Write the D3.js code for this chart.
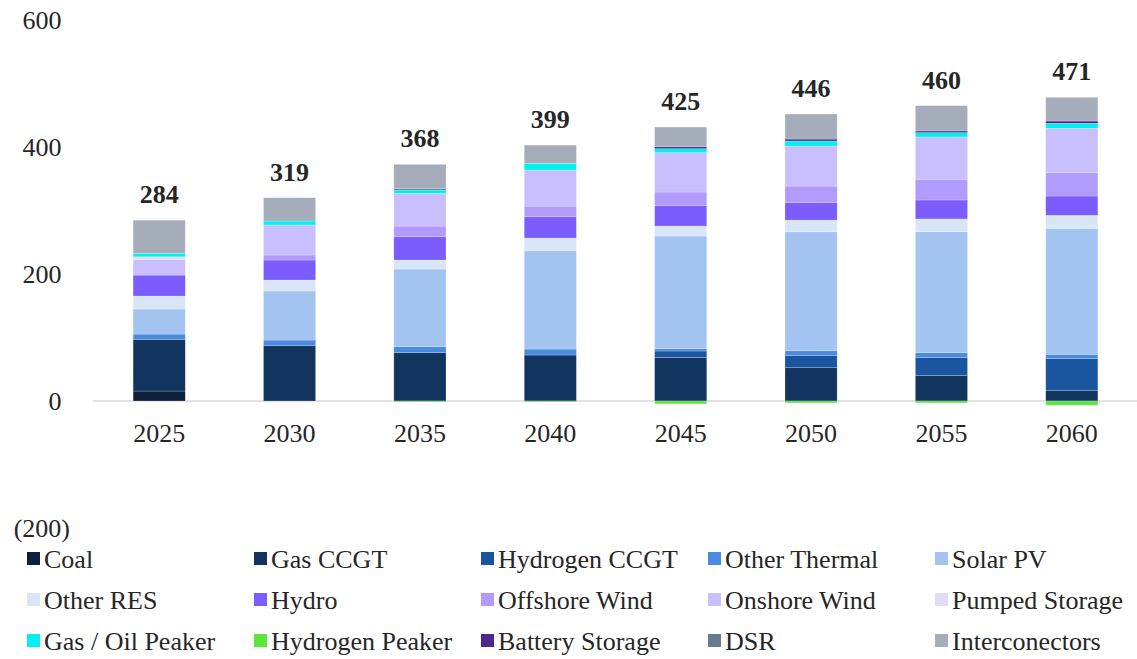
<!DOCTYPE html>
<html>
<head>
<meta charset="utf-8">
<script src="https://cdn.jsdelivr.net/npm/d3@7/dist/d3.min.js"></script>
</head>
<body style="margin:0;padding:0;background:#ffffff;">
<svg id="chart" width="1137" height="659" style="display:block;"></svg>
<script>
const years = ["2025", "2030", "2035", "2040", "2045", "2050", "2055", "2060"];
const totals = [284, 319, 368, 399, 425, 446, 460, 471];
const yTicks = [-200, 0, 200, 400, 600];

const seriesNames = ["Coal", "Gas CCGT", "Hydrogen CCGT", "Other Thermal", "Solar PV",
  "Other RES", "Hydro", "Offshore Wind", "Onshore Wind", "Pumped Storage",
  "Gas / Oil Peaker", "Hydrogen Peaker", "Battery Storage", "DSR", "Interconectors"];
const seriesColors = ["#0d213f", "#12355f", "#1a55a0", "#4a8ae0", "#a3c4f0",
  "#d9e6f7", "#7b5cff", "#b09cff", "#c9bfff", "#e2dcfb",
  "#00f0f0", "#5ce63a", "#4b2a8c", "#6c7a8e", "#a6adba"];

const coal           = [15.7, 0, 0, 0, 0, 0, 0, 0];
const gasCCGT        = [81.4, 87, 76, 72.4, 68.8, 52.4, 40.5, 16.2];
const hydrogenCCGT   = [0, 0, 0, 0, 9.9, 19.5, 27.7, 50.4];
const otherThermal   = [8.3, 9, 9.4, 9.4, 3.6, 7.2, 7.9, 6.9];
const solarPV        = [39.4, 77.2, 122.4, 154.8, 177.5, 187.4, 190.6, 198.4];
const otherRES       = [20.5, 17.3, 14.2, 20, 15.7, 18.4, 20, 20.5];
const hydro          = [33, 31.5, 36.7, 33.5, 32, 27.9, 29.9, 30.4];
const offshoreWind   = [0, 7.9, 16.8, 16.8, 21.6, 25.7, 32.6, 36.7];
const onshoreWind    = [24.7, 47.2, 51.5, 56.7, 61.9, 63, 66.6, 69.9];
const pumpedStorage  = [4.1, 0, 0, 0, 0, 0, 0, 0];
const gasOilPeaker   = [5.3, 6.3, 5.2, 10.6, 6.3, 7.9, 6.8, 7.9];
const hydrogenPeaker = [0, 0, -1.5, -1.5, -4.5, -3, -3, -6.5];
const batteryStorage = [0, 0, 0, 0, 3.1, 3.1, 2.7, 3.6];
const dsr            = [0, 0, 2.7, 0, 0, 0, 0, 0];
const interconectors = [52.4, 36.7, 37.8, 28.8, 31, 39.4, 39.8, 37.3];

const seriesValues = [coal, gasCCGT, hydrogenCCGT, otherThermal, solarPV, otherRES, hydro,
  offshoreWind, onshoreWind, pumpedStorage, gasOilPeaker, hydrogenPeaker, batteryStorage, dsr, interconectors];

const FONT = "'Liberation Serif'";
const TXT = "#262626";
const svg = d3.select("#chart");

const x = d3.scaleBand().domain(years).range([94, 1137]).paddingInner(0.6).paddingOuter(0.3);
const y = d3.scaleLinear().domain([-200, 600]).range([528, 20]);

// zero line
svg.append("line")
  .attr("x1", 93).attr("x2", 1137)
  .attr("y1", y(0)).attr("y2", y(0))
  .attr("stroke", "#d9d9d9").attr("stroke-width", 1.5);

// stacked segments (positive and negative stacked separately)
const rows = years.map((yr, i) => {
  const r = { year: yr };
  seriesNames.forEach((s, k) => { r[s] = seriesValues[k][i]; });
  return r;
});
const stack = d3.stack().keys(seriesNames).offset(d3.stackOffsetDiverging);
const layers = stack(rows);

const gBars = svg.append("g");
layers.forEach((layer, k) => {
  gBars.selectAll(null)
    .data(layer.filter(d => d[1] !== d[0]))
    .enter().append("rect")
    .attr("x", d => x(d.data.year))
    .attr("width", x.bandwidth())
    .attr("y", d => y(Math.max(d[0], d[1])))
    .attr("height", d => Math.abs(y(d[0]) - y(d[1])))
    .attr("fill", seriesColors[k])
    .attr("stroke", "#ffffff")
    .attr("stroke-opacity", 0.35)
    .attr("stroke-width", 0.6);
});

// total labels
const tops = years.map((yr, i) => d3.sum(seriesValues, s => Math.max(0, s[i])));
svg.append("g").selectAll("text")
  .data(years)
  .enter().append("text")
  .attr("x", d => x(d) + x.bandwidth() / 2)
  .attr("y", (d, i) => y(tops[i]) - 17)
  .attr("text-anchor", "middle")
  .style("font-family", FONT)
  .style("font-size", "26px")
  .style("font-weight", "bold")
  .style("fill", TXT)
  .text((d, i) => totals[i]);

// y axis labels
const yAxis = d3.axisLeft(y).tickValues(yTicks).tickSize(0)
  .tickFormat(v => v < 0 ? "(" + d3.format(",")(-v) + ")" : d3.format(",")(v));
const gy = svg.append("g").attr("transform", "translate(70,0)").call(yAxis);
gy.select(".domain").remove();
gy.selectAll("text")
  .style("font-family", FONT)
  .style("font-size", "26px")
  .style("fill", TXT)
  .attr("dx", v => v < 0 ? 0 : -8.5)
  .attr("x", 0);

// x axis labels
const xAxis = d3.axisBottom(x).tickSize(0);
const gx = svg.append("g").attr("transform", "translate(0," + y(0) + ")").call(xAxis);
gx.select(".domain").remove();
gx.selectAll("text")
  .style("font-family", FONT)
  .style("font-size", "26px")
  .style("fill", TXT)
  .attr("y", 0).attr("dy", 0)
  .attr("transform", "translate(0,41)");

// legend
const legendCols = [27, 254, 481, 708, 935];
const legendRows = [568, 609, 650];
const gl = svg.append("g");
seriesNames.forEach((name, k) => {
  const cx = legendCols[k % 5];
  const ry = legendRows[Math.floor(k / 5)];
  gl.append("rect")
    .attr("x", cx).attr("y", ry - 16)
    .attr("width", 13).attr("height", 13)
    .attr("fill", seriesColors[k]);
  gl.append("text")
    .attr("x", cx + 17).attr("y", ry)
    .style("font-family", FONT)
    .style("font-size", "26px")
    .style("fill", TXT)
    .text(name);
});
</script>
</body>
</html>
